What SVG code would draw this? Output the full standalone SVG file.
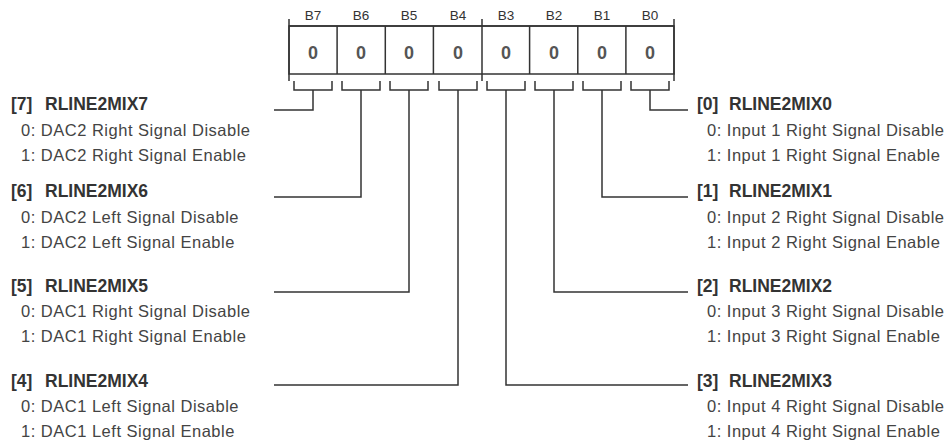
<svg xmlns="http://www.w3.org/2000/svg" width="949" height="442" viewBox="0 0 949 442">
<style>
.ln{stroke:#333;stroke-width:1.5;fill:none}
.bl{font-family:"Liberation Sans",Arial,sans-serif;font-size:13.5px;fill:#333;text-anchor:middle}
.bv{font-family:"Liberation Sans",Arial,sans-serif;font-size:18px;font-weight:bold;fill:#555;text-anchor:middle}
.hd{font-family:"Liberation Sans",Arial,sans-serif;font-size:17.5px;font-weight:bold;fill:#333}
.tx{font-family:"Liberation Sans",Arial,sans-serif;font-size:16.5px;letter-spacing:0.5px;fill:#444}
</style>
<rect width="949" height="442" fill="#fff"/>
<g id="register">
<line class="ln" x1="289" y1="26" x2="674" y2="26"/>
<rect class="ln" x="289" y="26" width="385" height="48"/>
<path class="ln" d="M289,19V81M482,19V81M674,19V81M337.1,26V74M385.3,26V74M433.4,26V74M529.6,26V74M577.8,26V74M625.9,26V74"/>
<g class="bl">
<text x="313" y="20">B7</text><text x="361" y="20">B6</text><text x="409" y="20">B5</text><text x="458" y="20">B4</text>
<text x="506" y="20">B3</text><text x="554" y="20">B2</text><text x="602" y="20">B1</text><text x="650" y="20">B0</text>
</g>
<g class="bv">
<text x="313" y="59">0</text><text x="361" y="59">0</text><text x="409" y="59">0</text><text x="458" y="59">0</text>
<text x="506" y="59">0</text><text x="554" y="59">0</text><text x="602" y="59">0</text><text x="650" y="59">0</text>
</g>
<path class="ln" d="M294,81V90H332V81M342,81V90H380V81M390,81V90H428V81M439,81V90H477V81M487,81V90H525V81M535,81V90H573V81M583,81V90H621V81M631,81V90H669V81"/>
</g>
<g id="connectors">
<path class="ln" d="M313,90V110H274"/>
<path class="ln" d="M361,90V197H274"/>
<path class="ln" d="M409,90V292H274"/>
<path class="ln" d="M458,90V385H274"/>
<path class="ln" d="M506,90V385H688"/>
<path class="ln" d="M554,90V292H688"/>
<path class="ln" d="M602,90V197H688"/>
<path class="ln" d="M650,90V110H688"/>
</g>
<g id="bit7"><text class="hd" x="11" y="110">[7]</text><text class="hd" x="45" y="110">RLINE2MIX7</text>
<text class="tx" x="21" y="136">0: DAC2 Right Signal Disable</text><text class="tx" x="21" y="161">1: DAC2 Right Signal Enable</text></g>
<g id="bit6"><text class="hd" x="11" y="197">[6]</text><text class="hd" x="45" y="197">RLINE2MIX6</text>
<text class="tx" x="21" y="223">0: DAC2 Left Signal Disable</text><text class="tx" x="21" y="248">1: DAC2 Left Signal Enable</text></g>
<g id="bit5"><text class="hd" x="11" y="292">[5]</text><text class="hd" x="45" y="292">RLINE2MIX5</text>
<text class="tx" x="21" y="317">0: DAC1 Right Signal Disable</text><text class="tx" x="21" y="342">1: DAC1 Right Signal Enable</text></g>
<g id="bit4"><text class="hd" x="11" y="387">[4]</text><text class="hd" x="45" y="387">RLINE2MIX4</text>
<text class="tx" x="21" y="412">0: DAC1 Left Signal Disable</text><text class="tx" x="21" y="437">1: DAC1 Left Signal Enable</text></g>
<g id="bit0"><text class="hd" x="697" y="110">[0]</text><text class="hd" x="729" y="110">RLINE2MIX0</text>
<text class="tx" x="707" y="136">0: Input 1 Right Signal Disable</text><text class="tx" x="707" y="161">1: Input 1 Right Signal Enable</text></g>
<g id="bit1"><text class="hd" x="697" y="197">[1]</text><text class="hd" x="729" y="197">RLINE2MIX1</text>
<text class="tx" x="707" y="223">0: Input 2 Right Signal Disable</text><text class="tx" x="707" y="248">1: Input 2 Right Signal Enable</text></g>
<g id="bit2"><text class="hd" x="697" y="292">[2]</text><text class="hd" x="729" y="292">RLINE2MIX2</text>
<text class="tx" x="707" y="317">0: Input 3 Right Signal Disable</text><text class="tx" x="707" y="342">1: Input 3 Right Signal Enable</text></g>
<g id="bit3"><text class="hd" x="697" y="387">[3]</text><text class="hd" x="729" y="387">RLINE2MIX3</text>
<text class="tx" x="707" y="412">0: Input 4 Right Signal Disable</text><text class="tx" x="707" y="437">1: Input 4 Right Signal Enable</text></g>
</svg>
